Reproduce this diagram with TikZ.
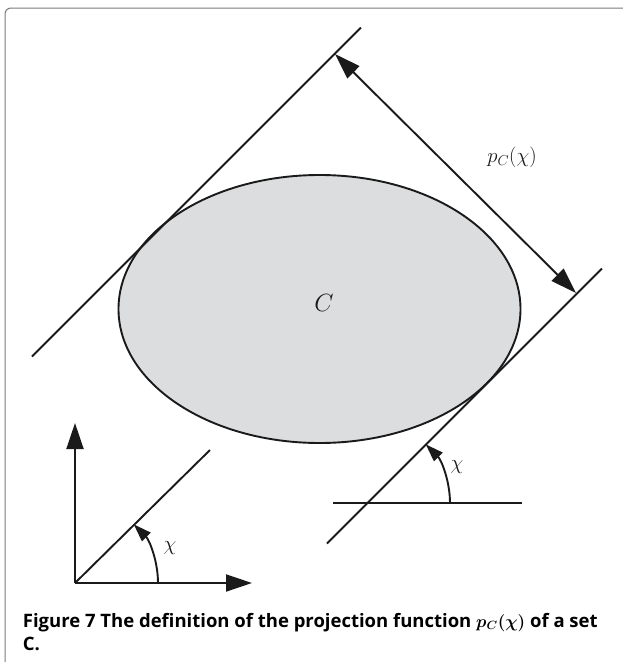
\documentclass[tikz,border=0pt]{standalone}
\usepackage{fontspec}
\setsansfont{Open Sans}
\usetikzlibrary{arrows.meta}
\definecolor{ellfill}{HTML}{DCDDDF}
\definecolor{framegray}{HTML}{7A7A7A}
\definecolor{ink}{HTML}{1A1A1A}
\begin{document}
\begin{tikzpicture}[x=1pt,y=-1pt,
  line width=1.9pt, draw=ink,
  bigtip/.style={-{Triangle[length=26pt,width=17pt]}},
  bigboth/.style={{Triangle[length=26pt,width=17pt]}-{Triangle[length=26pt,width=17pt]}},
  smalltip/.style={-{Triangle[length=18pt,width=12pt]}},
  lbl/.style={inner sep=0pt, text=ink},
  capfont/.style={font=\sffamily\bfseries\fontsize{18.5}{23}\selectfont, inner sep=0pt, anchor=base west}]
\useasboundingbox (0,0) rectangle (623,662);
% frame
\draw[framegray, line width=1pt, rounded corners=6pt] (5,662) -- (5,8) -- (623,8);
% ellipse
\draw[ink, fill=ellfill] (319.5,309) ellipse [x radius=201, y radius=134];
\node[lbl, font=\fontsize{25}{29}\selectfont] (setC) at (324,303) {$C$};
% tangent lines
\coordinate (u1) at (32,356.5);
\coordinate (u2) at (361,27.5);
\coordinate (l1) at (327,543.5);
\coordinate (l2) at (602,268.5);
\draw (u1) -- (u2);
\draw (l1) -- (l2);
% dimension arrow
\coordinate (dA) at (335,54);
\coordinate (dB) at (576,293);
\draw[bigboth] (dA) -- (dB);
\node[lbl, font=\fontsize{21}{25}\selectfont] (pc) at (512,157) {$p_C(\chi)$};
% right angle
\coordinate (h1) at (333,503);
\coordinate (h2) at (522,503);
\draw (h1) -- (h2);
\coordinate (rc) at (367,503);
\draw[smalltip] ([xshift=83pt]rc) arc[start angle=0, end angle=-45, radius=83];
\node[lbl, font=\fontsize{21}{25}\selectfont] (chiR) at (457,467) {$\chi$};
% axes
\coordinate (o) at (75,583);
\coordinate (ytip) at (75,423);
\coordinate (xtip) at (252,583);
\coordinate (dtip) at (210,450);
\draw[bigtip] (o) -- (ytip);
\draw[bigtip] (o) -- (xtip);
\draw (o) -- (dtip);
\draw[smalltip] ([xshift=83pt]o) arc[start angle=0, end angle=-45, radius=83];
\node[lbl, font=\fontsize{21}{25}\selectfont] (chiL) at (170,548) {$\chi$};
% caption
\node[capfont] (cap1) at (22,627) {Figure 7 The definition of the projection function {\boldmath$p_C(\chi)$} of a set};
\node[capfont] (cap2) at (22,650) {C.};
\end{tikzpicture}
\end{document}
